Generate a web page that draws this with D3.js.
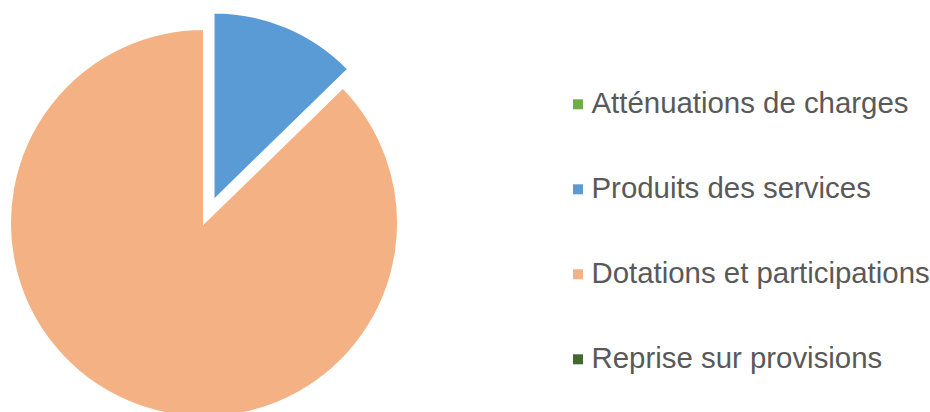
<!DOCTYPE html>
<html>
<head>
<meta charset="utf-8">
<script src="https://cdn.jsdelivr.net/npm/d3@7"></script>
<style>
  html, body { margin: 0; padding: 0; background: #ffffff; }
  svg { display: block; }
</style>
</head>
<body>
<svg id="chart" width="930" height="412"></svg>
<script>
// Recettes de fonctionnement, répartition par chapitre (%)
const categories = [
  "Atténuations de charges",
  "Produits des services",
  "Dotations et participations",
  "Reprise sur provisions"
];
const values = [0, 12.7, 87.3, 0];
const colors = ["#70AD47", "#5B9BD5", "#F4B183", "#43682B"];
const exploded = [false, true, false, false];

const svg = d3.select("#chart");

const cx = 204, cy = 223;
const radius = 194;
const explodedRadius = 188;
const explodeDist = 24.5;

const data = categories.map((c, i) => ({ name: c, value: values[i], color: colors[i], explode: exploded[i] }));

const pie = d3.pie()
  .sort(null)
  .value(d => d.value)
  .startAngle(0)
  .endAngle(2 * Math.PI);

const arcs = pie(data);

const arcGen = d3.arc().innerRadius(0);

const g = svg.append("g").attr("transform", `translate(${cx},${cy})`);

g.selectAll("path")
  .data(arcs.filter(a => a.endAngle - a.startAngle > 0))
  .join("path")
  .attr("d", a => arcGen.outerRadius(a.data.explode ? explodedRadius : radius)(a))
  .attr("transform", a => {
    if (!a.data.explode) return null;
    const mid = (a.startAngle + a.endAngle) / 2;
    const dx = Math.sin(mid) * explodeDist;
    const dy = -Math.cos(mid) * explodeDist;
    return `translate(${dx},${dy})`;
  })
  .attr("fill", a => a.data.color)
  .attr("stroke", "#ffffff")
  .attr("stroke-width", 2)
  .attr("stroke-linejoin", "miter");

// Legend
const legendX = 573, legendY0 = 113.3, legendStep = 85;
const legend = svg.append("g");
const items = legend.selectAll("g")
  .data(data)
  .join("g")
  .attr("transform", (d, i) => `translate(${legendX},${legendY0 + i * legendStep})`);

items.append("rect")
  .attr("x", 0)
  .attr("y", -14)
  .attr("width", 10)
  .attr("height", 10)
  .attr("fill", d => d.color);

items.append("text")
  .attr("x", 18.5)
  .attr("y", 0)
  .attr("font-family", "Liberation Sans, Arial, sans-serif")
  .attr("font-size", 29.4)
  .attr("fill", "#595959")
  .text(d => d.name);
</script>
</body>
</html>
